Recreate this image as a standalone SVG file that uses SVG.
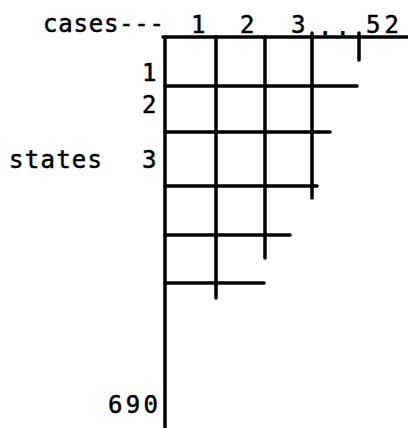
<svg xmlns="http://www.w3.org/2000/svg" width="408" height="428" viewBox="0 0 408 428">
<style>
.t{font-family:"DejaVu Sans Mono","Liberation Mono",monospace;font-size:24px;fill:#000;stroke:#000;stroke-width:0.5}
.l{stroke:#000;stroke-width:3.5;stroke-linecap:round;fill:none}
</style>
<rect width="408" height="428" fill="#fff"/>
<g id="labels">
<text class="t" x="43" y="32" textLength="121" lengthAdjust="spacing">cases---</text>
<text class="t" x="191" y="33">1</text>
<text class="t" x="240" y="33">2</text>
<text class="t" x="291" y="33">3</text>
<text class="t" x="318" y="35" textLength="32" lengthAdjust="spacing">..</text>
<text class="t" x="366" y="33" textLength="33" lengthAdjust="spacing">52</text>
<text class="t" x="142" y="81">1</text>
<text class="t" x="142" y="113">2</text>
<text class="t" x="9" y="168" textLength="93" lengthAdjust="spacing">states</text>
<text class="t" x="142" y="168">3</text>
<text class="t" x="108" y="413" textLength="50" lengthAdjust="spacing">690</text>
</g>
<g id="grid">
<line class="l" x1="165" y1="37" x2="165" y2="428" stroke-width="4.5"/>
<line class="l" x1="163" y1="37" x2="408" y2="37"/>
<line class="l" x1="216" y1="37" x2="216" y2="298"/>
<line class="l" x1="265" y1="37" x2="265" y2="258"/>
<line class="l" x1="312" y1="33" x2="312" y2="198"/>
<line class="l" x1="359" y1="33" x2="359" y2="60"/>
<line class="l" x1="165" y1="86" x2="357" y2="86"/>
<line class="l" x1="165" y1="132" x2="330" y2="132"/>
<line class="l" x1="165" y1="186" x2="317" y2="186"/>
<line class="l" x1="165" y1="235" x2="290" y2="235"/>
<line class="l" x1="165" y1="283" x2="264" y2="283"/>
</g>
</svg>
